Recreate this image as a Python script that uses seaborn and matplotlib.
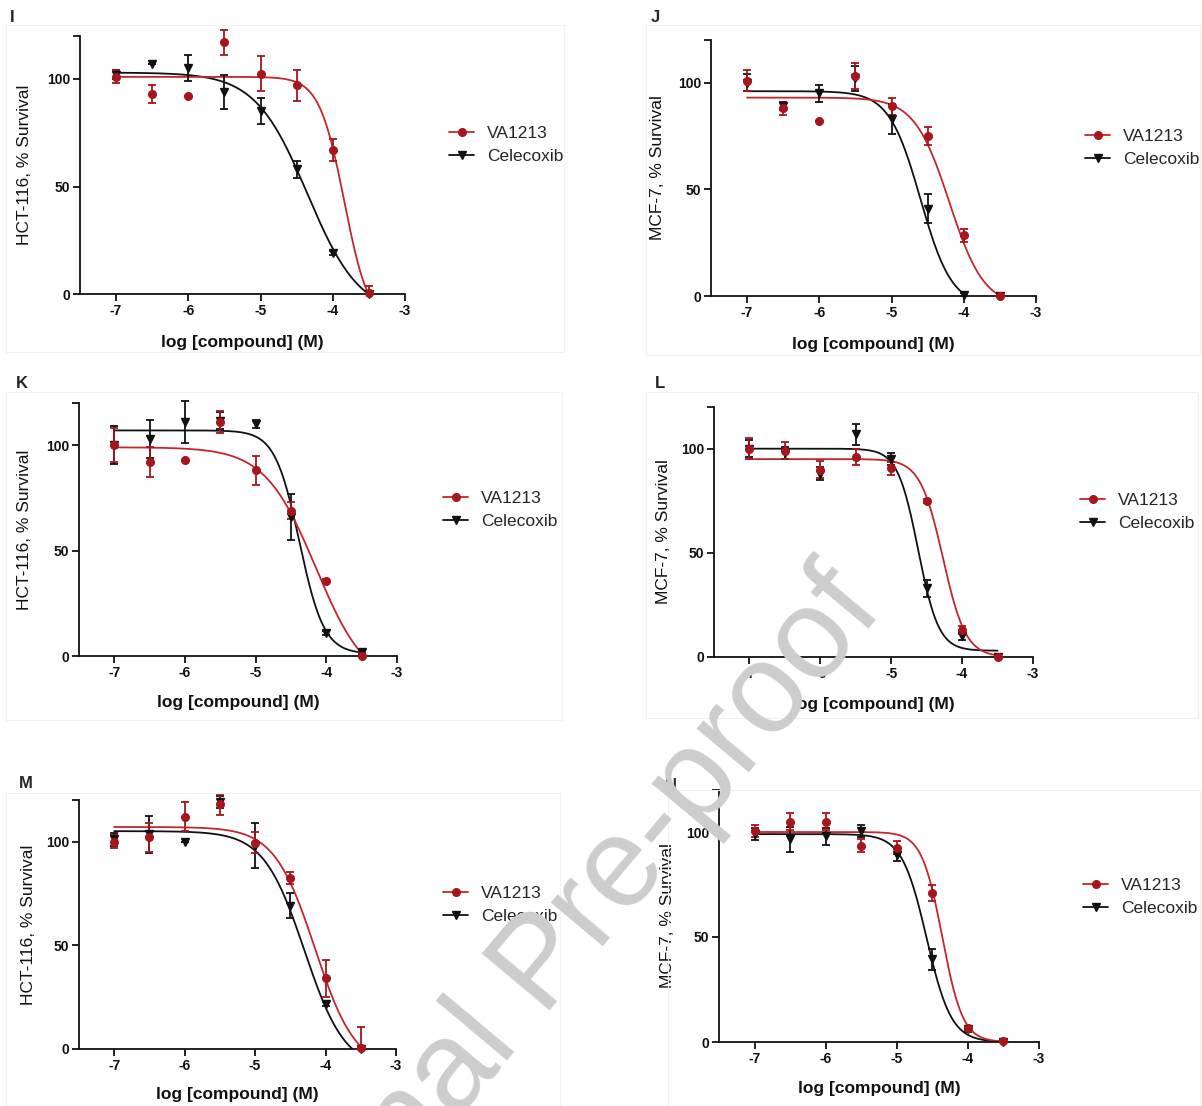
import numpy as np
import matplotlib
matplotlib.use("Agg")
import matplotlib.pyplot as plt
import seaborn as sns
from matplotlib.lines import Line2D
from matplotlib.patches import Rectangle

sns.set_style("ticks")
plt.rcParams['font.family'] = ['Liberation Sans', 'DejaVu Sans']

W, H = 1202, 1106

# log [compound] (M) doses, same for every panel
log_conc = [-7, -6.5, -6, -5.5, -5, -4.5, -4, -3.5]
drugs = ["VA1213", "Celecoxib"]

# panel I  (HCT-116)
i_va_mean = [101, 93, 92, 117, 102.5, 97, 67, 0.5]
i_va_err = [3, 4, 0, 6, 8, 7, 5, 3]
i_cel_mean = [102, 107, 105, 94, 85, 58, 19, 0]
i_cel_err = [2, 0, 6, 8, 6, 4, 1, 0]
i_va_fit = (101, -15, -3.84, 2.5)      # top, bottom, logIC50, hill
i_cel_fit = (103, -10, -4.35, 1.2)

# panel J  (MCF-7)
j_va_mean = [101, 88, 82, 103, 89, 75, 28.5, 0]
j_va_err = [5, 3, 0, 6, 4, 4, 3, 1]
j_cel_mean = [100, 89, 95, 102, 83, 41, 0.5, 0]
j_cel_err = [4, 2, 4, 6, 7, 7, 1, 0]
j_va_fit = (93, -5, -4.2, 1.8)
j_cel_fit = (96, -5, -4.6, 2.0)

# panel K  (HCT-116)
k_va_mean = [100, 92, 93, 111, 88, 69, 35.5, 0]
k_va_err = [8, 7, 0, 5, 7, 4, 1, 2]
k_cel_mean = [100, 103, 111, 111.5, 110, 66, 11, 2]
k_cel_err = [9, 9, 10, 4, 2, 11, 1, 1]
k_va_fit = (99, -15, -4.15, 1.2)
k_cel_fit = (107, 1, -4.38, 2.5)

# panel L  (MCF-7)
l_va_mean = [100, 99, 90, 96, 90.5, 75, 13, 0]
l_va_err = [5, 4, 4, 4, 3, 1, 2, 1]
l_cel_mean = [100, 98, 88, 107, 95, 33, 10, 0]
l_cel_err = [4, 3, 3, 5, 3, 4, 2, 0]
l_va_fit = (95, 0, -4.27, 2.7)
l_cel_fit = (100, 3, -4.62, 3.0)

# panel M  (HCT-116)
m_va_mean = [100, 102, 112, 118, 99.5, 82.5, 34, 0.5]
m_va_err = [3, 7, 7, 5, 5, 3, 9, 10]
m_cel_mean = [101, 103.5, 100, 119, 98, 69, 21.5, 0]
m_cel_err = [3, 9, 0, 3, 11, 6, 1, 0]
m_va_fit = (107, -10, -4.15, 1.5)
m_cel_fit = (105, -10, -4.3, 1.5)

# panel N  (MCF-7)
n_va_mean = [100.5, 105, 105, 93.5, 92.5, 71, 6.5, 0.3]
n_va_err = [3, 4, 4, 3, 3, 4, 1, 1]
n_cel_mean = [99, 96.5, 98, 100.5, 89, 39.5, 6, 0]
n_cel_err = [3, 6, 4, 3, 3, 5, 1, 0]
n_va_fit = (100, 0, -4.36, 3.0)
n_cel_fit = (99, 0, -4.58, 2.5)

x_ticks = [-7, -6, -5, -4, -3]
y_ticks = [0, 50, 100, 120]
y_ticklabels = ["0", "50", "100", ""]

RED_PT = "#a5161d"
RED_LN = "#c4262c"
BLACK = "#111111"


def four_pl(x, top, bottom, logic50, hill):
    return bottom + (top - bottom) / (1 + 10 ** (hill * (x - logic50)))


# layout in pixels: axes box (left, top, right, bottom), ylabel x, xlabel y,
# panel letter position, legend (handle left x, middle y)
panels = [
    ("I", "HCT-116, % Survival", i_va_mean, i_va_err, i_cel_mean, i_cel_err,
     i_va_fit, i_cel_fit, (80, 36, 405, 294), 25, 342, (10, 18), (449, 145)),
    ("J", "MCF-7, % Survival", j_va_mean, j_va_err, j_cel_mean, j_cel_err,
     j_va_fit, j_cel_fit, (711, 40, 1036, 296), 658, 344, (651, 18), (1085, 148)),
    ("K", "HCT-116, % Survival", k_va_mean, k_va_err, k_cel_mean, k_cel_err,
     k_va_fit, k_cel_fit, (79, 403, 397, 656), 25, 703, (16, 384), (443, 510)),
    ("L", "MCF-7, % Survival", l_va_mean, l_va_err, l_cel_mean, l_cel_err,
     l_va_fit, l_cel_fit, (714, 407, 1033, 657), 664, 705, (655, 384), (1080, 512)),
    ("M", "HCT-116, % Survival", m_va_mean, m_va_err, m_cel_mean, m_cel_err,
     m_va_fit, m_cel_fit, (79, 800, 396, 1049), 29, 1095, (19, 784), (443, 905)),
    ("N", "MCF-7, % Survival", n_va_mean, n_va_err, n_cel_mean, n_cel_err,
     n_va_fit, n_cel_fit, (719, 790, 1039, 1042), 667, 1088, (665, 785), (1083, 897)),
]

# faint frames around each sub-figure
frames = [(6, 25, 564, 352), (646, 25, 1200, 355), (6, 392, 562, 720),
          (646, 392, 1198, 718), (6, 793, 560, 1106), (668, 790, 1200, 1106)]

fig = plt.figure(figsize=(W / 100, H / 100), dpi=100)

for (x0, y0, x1, y1) in frames:
    fig.patches.append(Rectangle((x0 / W, 1 - y1 / H), (x1 - x0) / W, (y1 - y0) / H,
                                 transform=fig.transFigure, fill=False,
                                 edgecolor="#f1f1f1", lw=0.8, zorder=0))

x_fit = np.linspace(-7, -3.5, 400)

for (letter, ylab, va_m, va_e, cel_m, cel_e, va_fit, cel_fit,
     box, ylab_x, xlab_y, let_pos, leg_pos) in panels:
    left, top, right, bottom = box
    ax = fig.add_axes([left / W, 1 - bottom / H, (right - left) / W, (bottom - top) / H])
    ax.set_facecolor("none")

    # fitted curves
    sns.lineplot(x=x_fit, y=four_pl(x_fit, *cel_fit), ax=ax, color=BLACK, lw=1.3)
    sns.lineplot(x=x_fit, y=four_pl(x_fit, *va_fit), ax=ax, color=RED_LN, lw=1.3)

    # points with SD bars (lower bar stops at the axis)
    for means, errs, mk, col in [(cel_m, cel_e, "v", BLACK), (va_m, va_e, "o", RED_PT)]:
        means = np.array(means, dtype=float)
        errs = np.array(errs, dtype=float)
        low = np.minimum(errs, means)
        ax.errorbar(log_conc, means, yerr=[low, errs], fmt=mk, color=col, ms=5.5,
                    mec=col, ecolor=col, elinewidth=1.3, capsize=3.2, capthick=1.3,
                    clip_on=False, zorder=3)

    ax.set_xlim(-7.5, -3)
    ax.set_ylim(0, 120)
    ax.set_xticks(x_ticks)
    ax.set_xticklabels([str(t) for t in x_ticks])
    ax.set_yticks(y_ticks)
    ax.set_yticklabels(y_ticklabels)
    sns.despine(ax=ax)
    for sp in ("left", "bottom"):
        ax.spines[sp].set_linewidth(1.3)
        ax.spines[sp].set_color(BLACK)
    ax.tick_params(direction="out", length=5, width=1.3, colors=BLACK, pad=2)
    for lab in ax.get_xticklabels() + ax.get_yticklabels():
        lab.set_fontsize(10)
        lab.set_fontweight("bold")

    ax.set_xlabel("log [compound] (M)", fontsize=12.5, fontweight="bold", color=BLACK)
    ax.set_ylabel(ylab, fontsize=12.5, color=BLACK)
    ax.xaxis.set_label_coords(0.5, (bottom - xlab_y) / (bottom - top), transform=ax.transAxes)
    ax.yaxis.set_label_coords((ylab_x - left) / (right - left), 0.5, transform=ax.transAxes)
    ax.xaxis.label.set_va("center")
    ax.yaxis.label.set_va("center")

    fig.text(let_pos[0] / W, 1 - let_pos[1] / H, letter, fontsize=12,
             fontweight="bold", ha="left", va="center")

    handles = [Line2D([], [], color=RED_LN, lw=1.3, marker="o", ms=5.5,
                      mfc=RED_PT, mec=RED_PT),
               Line2D([], [], color=BLACK, lw=1.3, marker="v", ms=5.5)]
    fig.legend(handles, drugs, loc="center left",
               bbox_to_anchor=(leg_pos[0] / W, 1 - leg_pos[1] / H),
               frameon=False, fontsize=12.5, handlelength=1.45, handletextpad=0.75,
               labelspacing=0.5, borderpad=0, borderaxespad=0)

# journal watermark
fig.text(568 / W, 1 - 988 / H, "Journal Pre-proof", fontsize=92, color="#cdcdcd",
         rotation=50, rotation_mode="anchor", ha="center", va="baseline", zorder=10)

fig.savefig("out.png", dpi=100)
